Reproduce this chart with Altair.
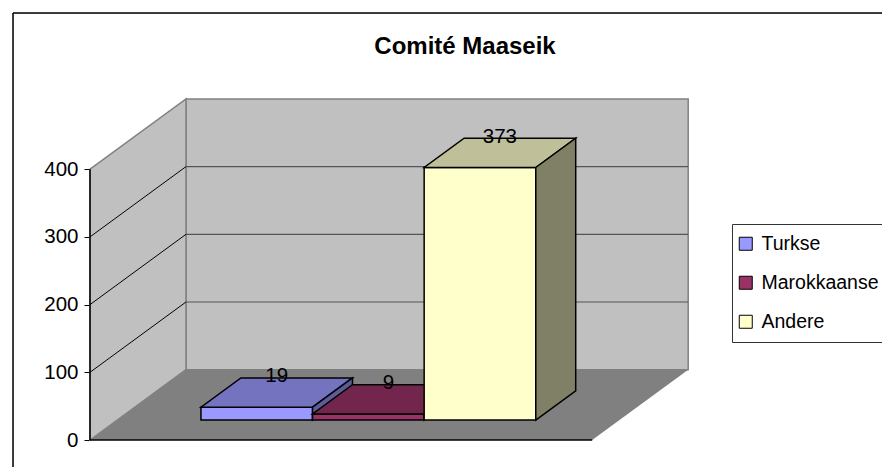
import altair as alt
import pandas as pd

# ---------------- data ----------------
categories = ["Turkse", "Marokkaanse", "Andere"]
values = [19, 9, 373]
tick_values = [0, 100, 200, 300, 400]
title_text = "Comité Maaseik"

# ---------------- styles ----------------
FONT = "Liberation Sans"
front_colors = ["#9999FF", "#993366", "#FFFFCC"]
top_colors = ["#7373BF", "#73264D", "#BFBF99"]
side_colors = ["#5C5C99", "#5C1F3D", "#808066"]
wall_color = "#C0C0C0"
floor_color = "#808080"
edge_color = "#808080"
back_grid_color = "#555555"

# ---------------- geometry (scale units) ----------------
PX_PER_VAL = 0.677          # pixels per value unit
BAR_PX = 111.6              # pixels per bar width unit
DEPTH_X = 96 / BAR_PX       # full depth, horizontal (bar units)
DEPTH_Y = 70.3 / PX_PER_VAL # full depth, vertical (value units)
GAP = 0.75                  # half of gap width 150%
FLOOR_W = len(categories) + 2 * GAP
F1, F2 = 0.284, 0.70        # bar depth range (fraction of full depth)
YTOP = tick_values[-1]

# ---------------- layout ----------------
W, H = 869, 454
ORIGIN_X, ORIGIN_Y = 13, 13     # page position of plot origin
AXIS_X, ZERO_Y = 90, 440        # page position of value axis / zero
TITLE_CX = 465
xmin = -(AXIS_X - ORIGIN_X) / BAR_PX
xmax = xmin + W / BAR_PX
ymax = (ZERO_Y - ORIGIN_Y) / PX_PER_VAL
ymin = ymax - H / PX_PER_VAL

xs = alt.Scale(domain=[xmin, xmax], nice=False, zero=False)
ys = alt.Scale(domain=[ymin, ymax], nice=False, zero=False)
yaxis = alt.Axis(values=tick_values, title=None, grid=False, domain=False,
                 offset=-(AXIS_X - ORIGIN_X), tickSize=6, tickColor="black",
                 labelPadding=6, labelFontSize=20.5, labelFont=FONT,
                 labelColor="black")


def X(f):
    return alt.X(f"{f}:Q", scale=xs, axis=None)


def Y(f):
    return alt.Y(f"{f}:Q", scale=ys, axis=yaxis)


# chart frame (top and left edges of the chart area)
frame_df = pd.DataFrame({"x": [xmin, xmin], "x2": [xmax, xmin],
                         "y": [ymax, ymin], "y2": [ymax, ymax]})
frame = alt.Chart(frame_df).mark_rule(color="black", strokeWidth=1.5).encode(
    x=X("x"), x2="x2", y=Y("y"), y2="y2")

# walls and floor
back_df = pd.DataFrame({"x": [DEPTH_X], "x2": [FLOOR_W + DEPTH_X],
                        "y": [DEPTH_Y], "y2": [YTOP + DEPTH_Y]})
side_df = pd.DataFrame({"x": [0, DEPTH_X], "y": [0, DEPTH_Y],
                        "y2": [YTOP, YTOP + DEPTH_Y]})
floor_df = pd.DataFrame({"x": [0, DEPTH_X, FLOOR_W, FLOOR_W + DEPTH_X],
                         "y": [0, 0, 0, DEPTH_Y],
                         "y2": [0, DEPTH_Y, DEPTH_Y, DEPTH_Y]})

back = alt.Chart(back_df).mark_rect(fill=wall_color, stroke=edge_color, strokeWidth=1.5).encode(
    x=X("x"), x2="x2", y=Y("y"), y2="y2")
side = alt.Chart(side_df).mark_area(orient="vertical", fill=wall_color, stroke=edge_color,
                                    strokeWidth=1.5).encode(x=X("x"), y=Y("y"), y2="y2")
floor = alt.Chart(floor_df).mark_area(orient="vertical", fill=floor_color).encode(
    x=X("x"), y=Y("y"), y2="y2")

grid_vals = tick_values[1:-1]
back_grid_df = pd.DataFrame({"x": DEPTH_X, "x2": FLOOR_W + DEPTH_X,
                             "y": [v + DEPTH_Y for v in grid_vals],
                             "y2": [v + DEPTH_Y for v in grid_vals]})
side_grid_df = pd.DataFrame({"x": 0.0, "x2": DEPTH_X,
                             "y": grid_vals,
                             "y2": [v + DEPTH_Y for v in grid_vals]})
back_grid = alt.Chart(back_grid_df).mark_rule(color=back_grid_color, strokeWidth=1.2).encode(
    x=X("x"), x2="x2", y=Y("y"), y2="y2")
side_grid = alt.Chart(side_grid_df).mark_rule(color="black", strokeWidth=1).encode(
    x=X("x"), x2="x2", y=Y("y"), y2="y2")

axis_df = pd.DataFrame({"x": [0.0, 0.0], "x2": [0.0, FLOOR_W],
                        "y": [0.0, 0.0], "y2": [YTOP, 0.0]})
axis_lines = alt.Chart(axis_df).mark_rule(color="black", strokeWidth=1.5).encode(
    x=X("x"), x2="x2", y=Y("y"), y2="y2")

layers = [frame, back, side, floor, back_grid, side_grid, axis_lines]

color_enc = alt.Color("serie:N",
                      scale=alt.Scale(domain=categories, range=front_colors),
                      legend=alt.Legend(title=None, orient="none", legendX=719, legendY=211,
                                        fillColor="white", strokeColor="#333333",
                                        padding=10, symbolOffset=-6,
                                        symbolType="square", symbolSize=169,
                                        symbolStrokeColor="black", symbolStrokeWidth=1,
                                        labelFont=FONT, labelFontSize=19.5, labelColor="black",
                                        labelOffset=6, rowPadding=18, cornerRadius=0))

ddx = (F2 - F1) * DEPTH_X
ddy = (F2 - F1) * DEPTH_Y
label_rows = []
for i, (cat, v) in enumerate(zip(categories, values)):
    L = GAP + i + F1 * DEPTH_X
    yb = F1 * DEPTH_Y
    T = yb + v
    front_df = pd.DataFrame({"serie": [cat], "x": [L], "x2": [L + 1], "y": [yb], "y2": [T]})
    faces_df = pd.DataFrame({
        "face": ["top"] * 4 + ["side"] * 2,
        "fill": [top_colors[i]] * 4 + [side_colors[i]] * 2,
        "x": [L, L + ddx, L + 1, L + 1 + ddx, L + 1, L + 1 + ddx],
        "y": [T, T, T, T + ddy, yb, yb + ddy],
        "y2": [T, T + ddy, T + ddy, T + ddy, T, T + ddy],
    })
    front = alt.Chart(front_df).mark_rect(stroke="black", strokeWidth=1.5).encode(
        x=X("x"), x2="x2", y=Y("y"), y2="y2", color=color_enc)
    faces = alt.Chart(faces_df).mark_area(orient="vertical", stroke="black",
                                          strokeWidth=1.5, strokeJoin="miter").encode(
        x=X("x"), y=Y("y"), y2="y2", detail="face:N",
        fill=alt.Fill("fill:N", scale=None))
    layers += [front, faces]
    label_rows.append({"x": L + 0.5 + ddx / 2, "y": T + ddy, "label": str(v)})

labels = alt.Chart(pd.DataFrame(label_rows)).mark_text(
    baseline="middle", align="center", dy=-1.5, fontSize=20.5, font=FONT, color="black").encode(
    x=X("x"), y=Y("y"), text="label:N")
layers.append(labels)

chart = alt.layer(*layers).properties(
    width=W, height=H,
    title=alt.TitleParams(title_text, font=FONT, fontSize=24, fontWeight="bold",
                          color="black", anchor="middle", baseline="alphabetic",
                          dx=TITLE_CX - (ORIGIN_X + W / 2), dy=66, offset=0),
    autosize=alt.AutoSizeParams(type="none"),
    padding={"left": 5, "top": 5, "right": 0, "bottom": 0},
).configure_view(stroke=None, fill="white").configure(background="white")

chart.save("out.html", embed_options={"renderer": "svg", "actions": False})
